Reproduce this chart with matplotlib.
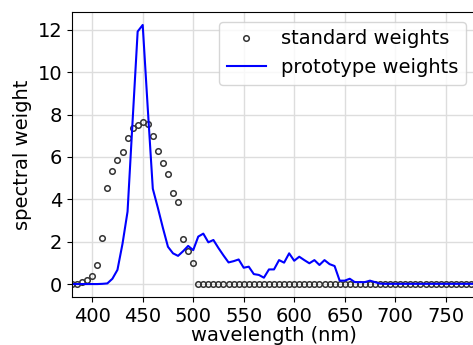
import matplotlib.pyplot as plt
from matplotlib.ticker import MultipleLocator

wavelengths = list(range(380, 785, 5))

standard_weights = [
    0.0, 0.02, 0.09, 0.19, 0.36, 0.88, 2.17, 4.55, 5.34, 5.86,
    6.22, 6.91, 7.38, 7.51, 7.65, 7.56, 7.0, 6.30, 5.72, 5.2,
    4.3, 3.87, 2.14, 1.54, 0.99, 0.0, 0.0, 0.0, 0.0, 0.0,
    0.0, 0.0, 0.0, 0.0, 0.0, 0.0, 0.0, 0.0, 0.0, 0.0,
    0.0, 0.0, 0.0, 0.0, 0.0, 0.0, 0.0, 0.0, 0.0, 0.0,
    0.0, 0.0, 0.0, 0.0, 0.0, 0.0, 0.0, 0.0, 0.0, 0.0,
    0.0, 0.0, 0.0, 0.0, 0.0, 0.0, 0.0, 0.0, 0.0, 0.0,
    0.0, 0.0, 0.0, 0.0, 0.0, 0.0, 0.0, 0.0, 0.0, 0.0,
    0.0,
]

prototype_weights = [
    0.0, 0.0, 0.0, 0.0, 0.0, 0.0, 0.01, 0.03, 0.25, 0.67,
    1.9, 3.42, 7.7, 11.92, 12.23, 8.3, 4.5, 3.6, 2.65, 1.76,
    1.45, 1.33, 1.55, 1.8, 1.6, 2.24, 2.38, 1.97, 2.08, 1.7,
    1.35, 1.02, 1.08, 1.16, 0.77, 0.82, 0.47, 0.43, 0.3, 0.69,
    0.69, 1.13, 1.01, 1.45, 1.1, 1.29, 1.13, 0.98, 1.13, 0.9,
    1.13, 0.94, 0.85, 0.16, 0.16, 0.25, 0.09, 0.09, 0.09, 0.16,
    0.09, 0.02, 0.01, 0.01, 0.01, 0.01, 0.01, 0.01, 0.01, 0.01,
    0.01, 0.01, 0.01, 0.01, 0.01, 0.01, 0.01, 0.01, 0.01, 0.01,
    0.01,
]

fig = plt.figure(figsize=(4.73, 3.45), dpi=100)
ax = fig.add_axes([72 / 473, 48 / 345, 404 / 473, 285 / 345])

ax.plot(wavelengths, standard_weights, "o", markersize=4, markerfacecolor="none",
        markeredgecolor="#333333", markeredgewidth=1.1, label="standard weights")
ax.plot(wavelengths, prototype_weights, color="blue", linewidth=1.5,
        label="prototype weights")

ax.set_xlim(380, 780)
ax.xaxis.set_major_locator(MultipleLocator(50))
ax.grid(True, color="#dddddd", linewidth=1)
ax.set_axisbelow(True)
ax.tick_params(labelsize=14)
ax.set_xlabel("wavelength (nm)", fontsize=14, labelpad=0)
ax.set_ylabel("spectral weight", fontsize=14)
ax.legend(loc="upper right", fontsize=14)

fig.savefig("out.png", dpi=100)
